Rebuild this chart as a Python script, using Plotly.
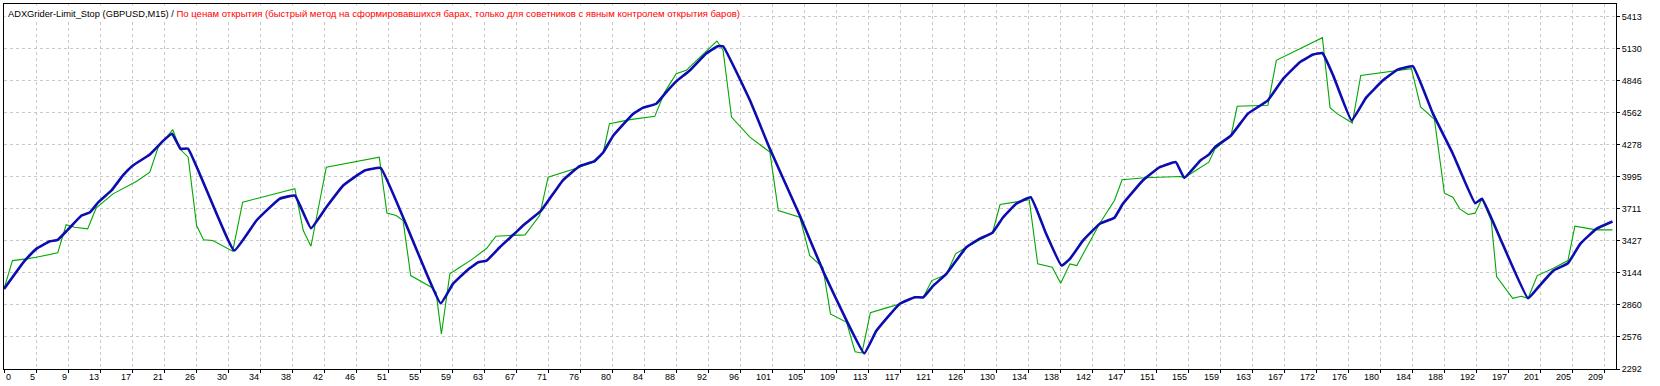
import plotly.graph_objects as go

# ---------------- data ----------------
balance_trade = [0, 2.7, 4.2, 6, 7, 8.3, 10.1, 11.2, 12.3, 14, 15.5, 16.8, 19, 20.7, 21.9, 23, 24,
                 30, 32.9, 35.9, 37.9, 40, 42, 44.2, 47, 49.1, 56.9, 58.5, 60.3, 61.8, 62.9, 64.6,
                 66.5, 67.9, 70, 72.8, 75, 76.9, 78.1, 79.4, 82, 83.3, 85, 86.3, 87.6, 89.4, 91.5,
                 93, 93.7, 97.2, 99.8, 103.7, 106.9, 109.8, 112.1, 113.7, 116.7, 118.7, 119.8, 121.1,
                 122.8, 125.4, 127.1, 128.8, 130.2, 131.9, 133.8, 135.8, 137.8, 138.9, 140.6, 142.8,
                 144.7, 145.8, 148.4, 150.6, 152.7, 153.8, 155.9, 157, 157.8, 159.9, 162.1, 164.7,
                 166.7, 168.9, 170.6, 171.8, 173.2, 175.6, 177.5, 179.7, 181.6, 183.6, 186.2, 188.8,
                 191.7, 192.6, 194.9, 198.6, 200.1, 201.9, 203.8, 205.4, 207.5, 209.6]
balance = [3001, 3252, 3356, 3423, 3436, 3524, 3651, 3680, 3769, 3873, 4006, 4094, 4192, 4310, 4375,
           4242, 4242, 3341, 3607, 3799, 3828, 3539, 3725, 3917, 4050, 4071, 2874, 3046, 3163, 3237,
           3252, 3370, 3489, 3578, 3695, 3961, 4088, 4130, 4212, 4360, 4553, 4606, 4641, 4744, 4839,
           4937, 5085, 5150, 5150, 4671, 4242, 3651, 3134, 2720, 2430, 2632, 2868, 2927, 2927, 3030,
           3134, 3370, 3444, 3498, 3636, 3755, 3813, 3489, 3208, 3267, 3429, 3578, 3631, 3755, 3961,
           4079, 4124, 3985, 4139, 4190, 4257, 4360, 4553, 4671, 4863, 5010, 5076, 5090, 4892, 4493,
           4695, 4848, 4943, 4972, 4553, 4198, 3760, 3799, 3459, 2918, 3030, 3163, 3228, 3400, 3533,
           3598]

equity_trade = [0, 1.1, 2.9, 4.2, 7, 8.1, 9.2, 10.9, 12, 14.2, 17.3, 19, 20.1, 22, 22.9, 24, 25.1, 26,
                27.2, 29.8, 31.1, 37.9, 39, 40, 42, 48.9, 49.9, 51.1, 52, 53, 55.7, 56.3, 57, 58.1,
                59.4, 60.9, 62.9, 64.1, 67.9, 69.8, 70.9, 75, 77, 78.1, 78.9, 81.6, 84.8, 86.1, 87.6,
                88.9, 92.9, 93.7, 94.8, 97.2, 99.8, 100.9, 103.7, 105, 106.7, 107.7, 109.8, 110.9,
                111.8, 112.9, 115, 116.7, 118.7, 119.8, 120.9, 122.8, 124, 125.4, 128.8, 129.8, 133.6,
                134.7, 136.6, 137.7, 138.9, 139.8, 142.8, 144.7, 145.7, 148.7, 153.3, 153.8, 157,
                157.8, 159.9, 160.7, 164.7, 165.8, 171.8, 172.1, 172.8, 173.7, 175.7, 176.8, 183.4,
                184.6, 186.4, 187.7, 188.8, 189.7, 190.8, 191.7, 192.6, 193.8, 194.5, 196.6, 197.7,
                198.6, 199.8, 201.9, 203.8, 204.7, 207.5, 209.6]
equity = [3001, 3252, 3267, 3281, 3320, 3569, 3547, 3533, 3716, 3843, 3955, 4035, 4257, 4411, 4242,
          4168, 3562, 3436, 3430, 3335, 3769, 3888, 3518, 3379, 4079, 4168, 3672, 3651, 3607, 3119,
          3016, 2971, 2602, 3134, 3193, 3258, 3361, 3468, 3480, 3651, 3991, 4079, 4130, 4212, 4464,
          4500, 4529, 4744, 4907, 4937, 5196, 5114, 4523, 4345, 4212, 3695, 3636, 3296, 3193, 2780,
          2705, 2445, 2434, 2791, 2833, 2868, 2927, 2927, 3075, 3128, 3312, 3370, 3498, 3748, 3790,
          3223, 3193, 3051, 3223, 3208, 3583, 3784, 3968, 3985, 3997, 3985, 4124, 4240, 4360, 4618,
          4627, 5025, 5226, 5055, 4606, 4553, 4470, 4892, 4952, 4612, 4502, 3849, 3813, 3710, 3660,
          3672, 3799, 3607, 3110, 2918, 2936, 2918, 3119, 3184, 3252, 3556, 3524, 3524]

x_tick_labels = ["0", "5", "9", "13", "17", "21", "26", "30", "34", "38", "42", "46", "51", "55",
                 "59", "63", "67", "71", "76", "80", "84", "88", "92", "96", "101", "105", "109",
                 "113", "117", "121", "126", "130", "134", "138", "142", "147", "151", "155", "159",
                 "163", "167", "172", "176", "180", "184", "188", "192", "197", "201", "205", "209"]
y_tick_labels = ["2292", "2576", "2860", "3144", "3427", "3711", "3995", "4278", "4562", "4846",
                 "5130", "5413"]

title_black = "ADXGrider-Limit_Stop (GBPUSD,M15)"
title_red = "По ценам открытия (быстрый метод на сформировавшихся барах, только для советников с явным контролем открытия баров)"

# ---------------- figure ----------------
X_STEP = 4.17          # trades per grid cell
X_MAX = 210.06
FONT = "Liberation Sans, Arial, sans-serif"

x_tick_vals = [i * X_STEP for i in range(len(x_tick_labels))]
y_tick_vals = [float(v) for v in y_tick_labels]

fig = go.Figure()
fig.add_trace(go.Scatter(x=equity_trade, y=equity, mode="lines",
                         line=dict(color="#00a800", width=1.1), hoverinfo="skip"))
fig.add_trace(go.Scatter(x=balance_trade, y=balance, mode="lines",
                         line=dict(color="#0c0cb0", width=2.6, shape="spline", smoothing=0.3),
                         hoverinfo="skip"))

annotations = []
for i, (v, t) in enumerate(zip(x_tick_vals, x_tick_labels)):
    annotations.append(dict(x=v, xref="x", y=0, yref="paper", text=t, showarrow=False,
                            xanchor="left" if i == 0 else "right", yanchor="top",
                            xshift=0 if i == 0 else 1, yshift=-1,
                            font=dict(family=FONT, size=9, color="#000000")))
annotations.append(dict(x=0, xref="paper", y=1, yref="paper", xanchor="left", yanchor="top",
                        xshift=1, yshift=-1, showarrow=False, align="left",
                        text=title_black + " / <span style='color:#ff0000;font-size:9.55px'>"
                        + title_red + "</span>",
                        font=dict(family=FONT, size=9.3, color="#000000"),
                        bgcolor="#ffffff", borderpad=2))

fig.update_layout(
    width=1660, height=386,
    margin=dict(l=4, r=44, t=4, b=17, pad=0),
    paper_bgcolor="#ffffff", plot_bgcolor="#ffffff",
    showlegend=False,
    annotations=annotations,
    xaxis=dict(range=[0, X_MAX], tickvals=x_tick_vals, showticklabels=False,
               ticks="outside", ticklen=3, tickcolor="#000000",
               showgrid=True, gridcolor="#c8c8c8", griddash="3px,3px", gridwidth=1,
               showline=True, linecolor="#000000", linewidth=1, mirror=True, zeroline=False),
    yaxis=dict(range=[2292, 5524], side="right", tickvals=y_tick_vals, ticktext=y_tick_labels,
               ticks="outside", ticklen=3, tickcolor="#000000",
               tickfont=dict(family=FONT, size=9, color="#000000"),
               showgrid=True, gridcolor="#c8c8c8", griddash="3px,3px", gridwidth=1,
               showline=True, linecolor="#000000", linewidth=1, mirror=True, zeroline=False),
)

fig.write_html("out.html")
